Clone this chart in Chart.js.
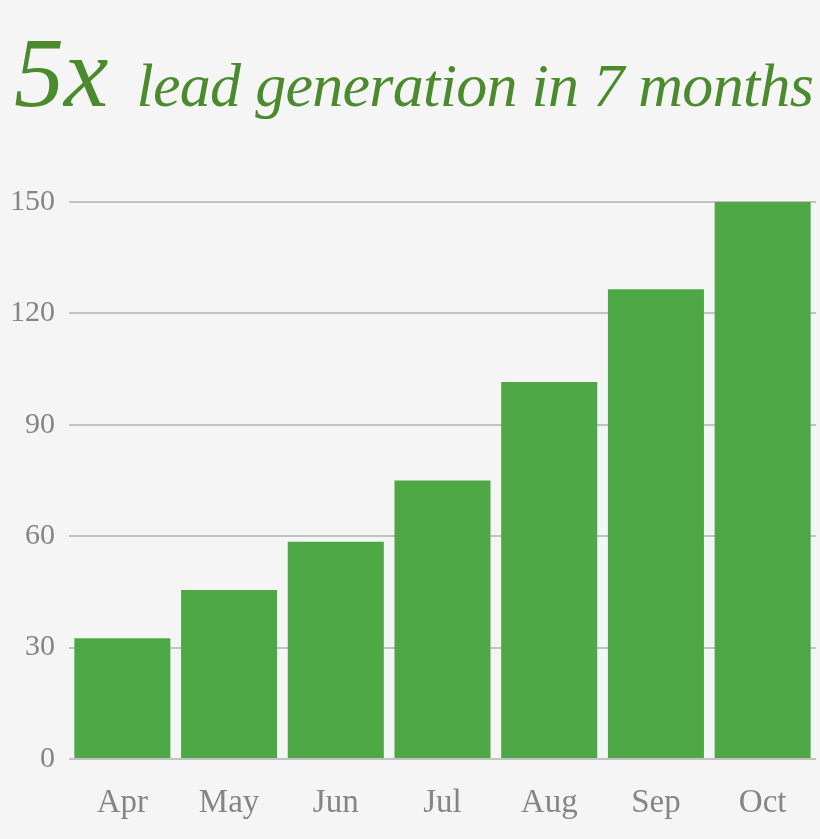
<!DOCTYPE html>
<html>
<head>
<meta charset="utf-8">
<script src="https://cdn.jsdelivr.net/npm/chart.js@4.4.1/dist/chart.umd.min.js"></script>
<style>
  html, body { margin: 0; padding: 0; background: #f5f5f5; }
  #wrap { position: relative; width: 820px; height: 839px; }
  #title {
    position: absolute; left: 14px; top: 15px; white-space: nowrap;
    font-family: "Liberation Serif", serif; font-style: italic; color: #4b8b2d;
  }
  #title .big { font-size: 100px; }
  #title .rest { font-size: 62px; margin-left: 28px; letter-spacing: -0.7px; }
  canvas { position: absolute; left: 0; top: 0; }
</style>
</head>
<body>
<div id="wrap">
  <canvas id="leadChart" width="820" height="839"></canvas>
  <div id="title"><span class="big">5x</span><span class="rest">lead generation in 7 months</span></div>
</div>
<script>
const months = ['Apr', 'May', 'Jun', 'Jul', 'Aug', 'Sep', 'Oct'];
const leads = [32.5, 45.5, 58.5, 75, 101.5, 126.5, 150];
const yTicks = [0, 30, 60, 90, 120, 150];

const ctx = document.getElementById('leadChart');

new Chart(ctx, {
  type: 'bar',
  data: {
    labels: months,
    datasets: [{
      label: 'Leads',
      data: leads,
      backgroundColor: '#4fa846',
      borderWidth: 0,
      categoryPercentage: 0.9,
      barPercentage: 1
    }]
  },
  options: {
    responsive: false,
    animation: false,
    layout: { padding: { top: 202, right: 4, left: 1, bottom: 0 } },
    plugins: { legend: { display: false }, tooltip: { enabled: false } },
    scales: {
      x: {
        afterFit: axis => { axis.height = 80; },
        grid: { display: false },
        border: { display: false },
        ticks: { color: '#858585', padding: 17, font: { family: 'Liberation Serif', size: 33 } }
      },
      y: {
        min: 0,
        max: 150,
        afterFit: axis => { axis.width = 68; },
        afterBuildTicks: axis => { axis.ticks = yTicks.map(v => ({ value: v })); },
        grid: { color: '#c2c2c2', lineWidth: 2, drawTicks: false },
        border: { display: false },
        ticks: { color: '#858585', padding: 14, font: { family: 'Liberation Serif', size: 30 } }
      }
    }
  }
});
</script>
</body>
</html>
